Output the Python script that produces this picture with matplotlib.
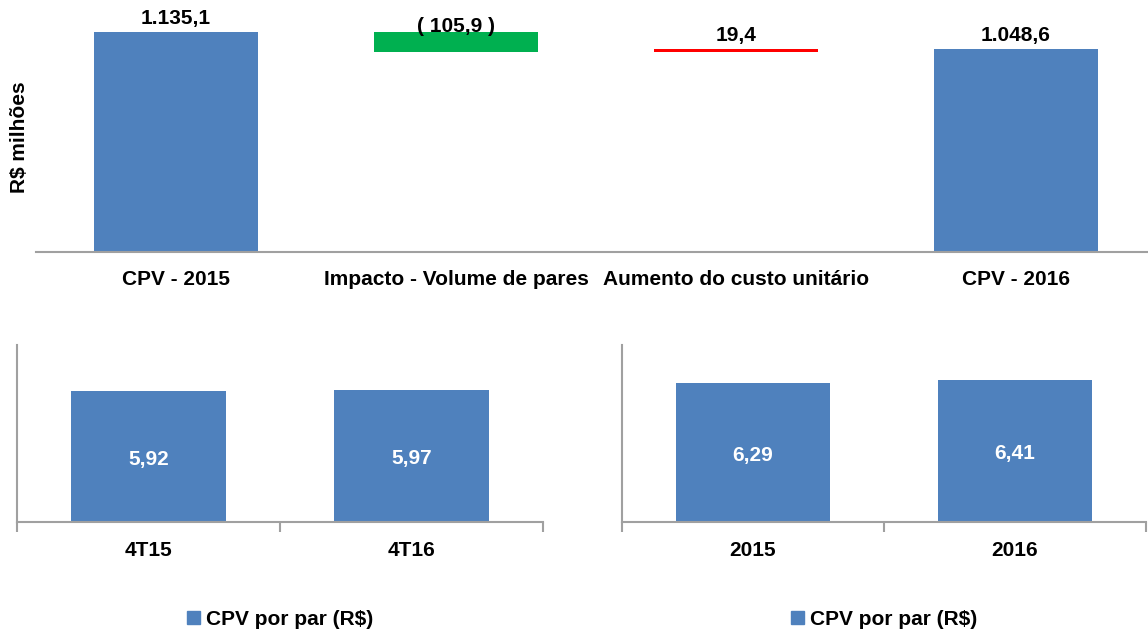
import matplotlib.pyplot as plt
from matplotlib.patches import Patch

plt.rcParams["font.family"] = ["Liberation Sans", "DejaVu Sans"]
plt.rcParams["font.weight"] = "bold"

# top waterfall
wf_labels = ["CPV - 2015", "Impacto - Volume de pares", "Aumento do custo unitário", "CPV - 2016"]
cpv_2015 = 1135.1
impacto_volume = -105.9
aumento_custo = 19.4
cpv_2016 = 1048.6
wf_texts = ["1.135,1", "( 105,9 )", "19,4", "1.048,6"]

# bottom bars
quarter_labels = ["4T15", "4T16"]
quarter_values = [5.92, 5.97]
year_labels = ["2015", "2016"]
year_values = [6.29, 6.41]
bar_texts_q = ["5,92", "5,97"]
bar_texts_y = ["6,29", "6,41"]
legend_label = "CPV por par (R$)"

BLUE = "#4F81BD"
GREEN = "#00B050"
RED = "#FF0000"
GRAY = "#A0A0A0"
FS = 15
W, H = 1148, 632

fig = plt.figure(figsize=(W / 100, H / 100), dpi=100)


def px_axes(x0, y0, x1, y1):
    return fig.add_axes([x0 / W, 1 - y1 / H, (x1 - x0) / W, (y1 - y0) / H])


# ---- waterfall (axes runs a bit past the right edge, like the original)
ax = px_axes(36, 0, 1156, 252)
base_after_volume = cpv_2015 + impacto_volume
ax.bar(0, cpv_2015, width=0.586, color=BLUE)
ax.bar(1, -impacto_volume, bottom=base_after_volume, width=0.586, color=GREEN)
ax.bar(2, aumento_custo, bottom=base_after_volume, width=0.586, color=RED)
ax.bar(3, cpv_2016, width=0.586, color=BLUE)
tops = [cpv_2015, cpv_2015, base_after_volume + aumento_custo, cpv_2016]
offs = [3, -3, 3, 3]
for i, (t, s) in enumerate(zip(tops, wf_texts)):
    ax.annotate(s, (i, t), xytext=(0, offs[i]), textcoords="offset points",
                ha="center", va="bottom", fontsize=FS, fontweight="bold")
ax.set_xlim(-0.5, 3.5)
ax.set_ylim(0, 1300)
ax.set_xticks(range(4))
ax.set_xticklabels(wf_labels, fontsize=FS, fontweight="bold")
ax.tick_params(axis="x", length=0, pad=13)
ax.set_yticks([])
for s in ["top", "right", "left"]:
    ax.spines[s].set_visible(False)
ax.spines["bottom"].set_color(GRAY)
ax.spines["bottom"].set_linewidth(1.5)
fig.text(20 / W, 1 - 137 / H, "R$ milhões", rotation=90, ha="center", va="center",
         fontsize=FS, fontweight="bold")


def small_bars(ax, labels, values, texts):
    ax.bar(range(len(values)), values, width=0.59, color=BLUE)
    for i, (v, s) in enumerate(zip(values, texts)):
        ax.text(i, v * 0.48, s, ha="center", va="center", color="white",
                fontsize=FS, fontweight="bold")
    ax.set_xlim(-0.5, 1.5)
    ax.set_ylim(0, 8)
    ax.set_xticks(range(len(labels)))
    ax.set_xticklabels(labels, fontsize=FS, fontweight="bold")
    ax.set_xticks([-0.5, 0.5, 1.5], minor=True)
    ax.tick_params(axis="x", which="major", length=0, pad=14)
    ax.tick_params(axis="x", which="minor", length=7, color=GRAY, width=1.5)
    ax.set_yticks([])
    for s in ["top", "right"]:
        ax.spines[s].set_visible(False)
    for s in ["bottom", "left"]:
        ax.spines[s].set_color(GRAY)
        ax.spines[s].set_linewidth(1.5)
    ax.legend([Patch(color=BLUE)], [legend_label], loc="center",
              bbox_to_anchor=(0.5, -0.55), frameon=False, fontsize=FS,
              handlelength=0.6, handleheight=0.6, handletextpad=0.3)


ax2 = px_axes(17, 345, 543, 522)
small_bars(ax2, quarter_labels, quarter_values, bar_texts_q)
ax3 = px_axes(622, 345, 1146, 522)
small_bars(ax3, year_labels, year_values, bar_texts_y)

fig.savefig("out.png", dpi=100)
